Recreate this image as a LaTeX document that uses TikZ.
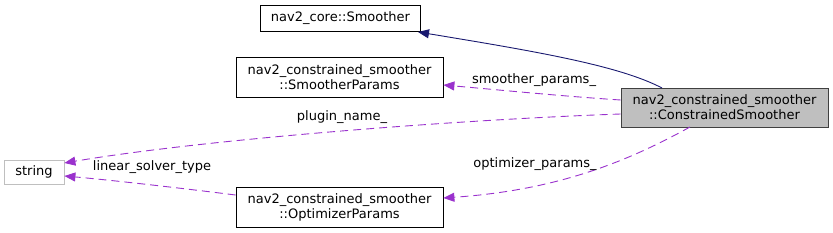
\documentclass[tikz,border=0pt]{standalone}
\usepackage{fontspec}
\setmainfont{DejaVu Sans}
\usetikzlibrary{arrows.meta}
\definecolor{purp}{HTML}{9A32CD}
\definecolor{navy}{HTML}{191970}
\tikzset{
  box/.style={draw=black, line width=0.8pt, align=center, inner sep=0pt, font=\fontsize{13}{15}\selectfont},
  rel/.style={draw=purp, dashed, dash pattern=on 8pt off 5pt, line width=0.9pt, -{Triangle[length=11pt,width=9pt,fill=purp]}},
  inh/.style={draw=navy, line width=0.9pt, -{Triangle[length=11pt,width=9pt,fill=navy]}},
  lbl/.style={font=\fontsize{13}{15}\selectfont, inner sep=1pt}
}
\begin{document}
\begin{tikzpicture}[x=1pt,y=-1pt]
\useasboundingbox (0,0) rectangle (833,233);
\node[box, minimum width=160pt, minimum height=26pt] (sm) at (340.5,18.5) {nav2\_core::Smoother};
\node[box, minimum width=207pt, minimum height=40pt] (sp) at (339.5,77) {nav2\_constrained\_smoother\\::SmootherParams};
\node[box, draw={rgb,255:red,64;green,64;blue,64}, fill={rgb,255:red,191;green,191;blue,191}, minimum width=207pt, minimum height=39pt] (cs) at (724.5,107.5) {nav2\_constrained\_smoother\\::ConstrainedSmoother};
\node[box, draw={rgb,255:red,191;green,191;blue,191}, minimum width=60pt, minimum height=24pt] (st) at (34,172) {string};
\node[box, minimum width=207pt, minimum height=40pt] (op) at (339.5,207) {nav2\_constrained\_smoother\\::OptimizerParams};

\coordinate (cstop) at (662,88);
\coordinate (smbot) at (418,32);
\draw[inh] (cstop) .. controls (620,66) and (540,52) .. (smbot);

\draw[rel] (cs.west |- 0,100) .. controls (560,96) and (500,90) .. (sp.east |- 0,85);
\node[lbl] (l1) at (534,80) {smoother\_params\_};

\draw[rel] (cs.west |- 0,114) .. controls (450,120) and (200,140) .. (st.east |- 0,163);
\node[lbl] (l2) at (342,117) {plugin\_name\_};

\draw[rel] (op.west |- 0,195) .. controls (180,188) and (110,180) .. (st.east |- 0,176);
\node[lbl] (l3) at (152,167) {linear\_solver\_type};

\coordinate (csbot) at (690,127);
\draw[rel] (csbot) .. controls (630,160) and (560,190) .. (op.east |- 0,198);
\node[lbl] (l4) at (535,164) {optimizer\_params\_};
\end{tikzpicture}
\end{document}
